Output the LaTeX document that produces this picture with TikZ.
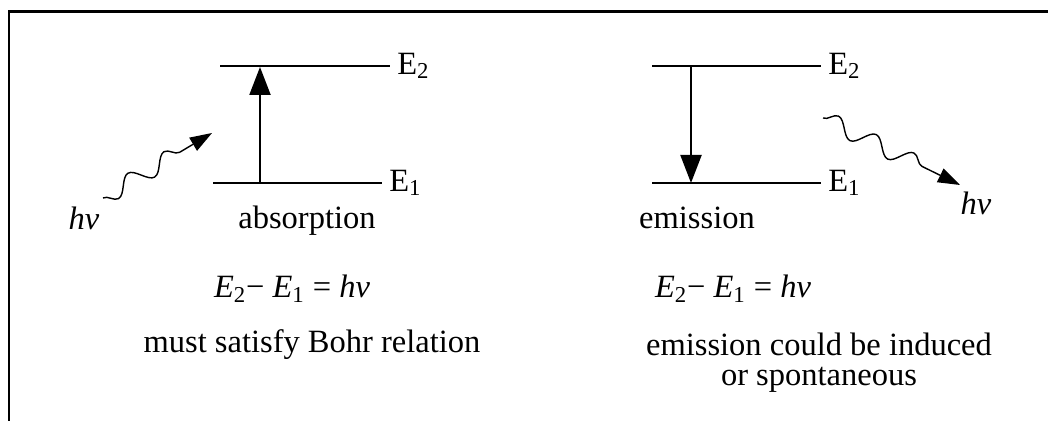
\documentclass[tikz,border=0pt]{standalone}
\usepackage{fontspec}
\setmainfont{Liberation Serif}
\usetikzlibrary{positioning,arrows.meta,decorations.pathmorphing}

\begin{document}
\begin{tikzpicture}[
  x=0.02cm, y=-0.02cm,
  font=\fontsize{18.5}{17}\selectfont,
  frame/.style={line width=1.7pt},
  level/.style={line width=1.5pt},
  trans/.style={line width=1.2pt, -{Triangle[length=0.56cm, width=0.42cm]}},
  photon/.style={line width=0.8pt, decorate,
    decoration={snake, amplitude=0.17cm, segment length=0.84cm, post length=0.7cm},
    -{Triangle[length=0.44cm, width=0.3cm]}},
  lvllabel/.style={inner sep=0pt},
  caption/.style={inner sep=0pt, anchor=base, align=center},
]
\useasboundingbox (0,0) rectangle (1048,421);

% Frame, only top and left edges show.
\draw[frame] (1048,12) -- (9,12) -- (9,421);

% Absorption: the two levels and the upward transition.
\coordinate (aTopL) at (220,66);
\coordinate (aTopR) at (390,66);
\coordinate (aBotL) at (213,183);
\coordinate (aBotR) at (382,183);
\draw[level] (aTopL) -- (aTopR);
\draw[level] (aBotL) -- (aBotR);
\node[lvllabel, right=4pt of aTopR] (aE2) {E\textsubscript{2}};
\node[lvllabel, right=4pt of aBotR] (aE1) {E\textsubscript{1}};
\coordinate (aUpS) at (260,183);
\coordinate (aUpE) at (260,67);
\draw[trans] (aUpS) -- (aUpE);

% Emission: the two levels and the downward transition.
\coordinate (eTopL) at (652,66);
\coordinate (eTopR) at (821,66);
\coordinate (eBotL) at (652,183);
\coordinate (eBotR) at (821,183);
\draw[level] (eTopL) -- (eTopR);
\draw[level] (eBotL) -- (eBotR);
\node[lvllabel, right=4pt of eTopR] (eE2) {E\textsubscript{2}};
\node[lvllabel, right=4pt of eBotR] (eE1) {E\textsubscript{1}};
\coordinate (eDnS) at (691,67);
\coordinate (eDnE) at (691,183);
\draw[trans] (eDnS) -- (eDnE);

% Incoming and outgoing photons.
\coordinate (inS) at (103,198);
\coordinate (inE) at (212,133);
\draw[photon, decoration={mirror}] (inS) -- (inE);
\node (hvIn) at (84,218) {\textit{hν}};
\coordinate (outS) at (823,118);
\coordinate (outE) at (960,185);
\draw[photon] (outS) -- (outE);
\node (hvOut) at (976,203) {\textit{hν}};

% Captions under each diagram.
\node[caption] (absorb) at (307,229) {absorption};
\node[caption] (emit)   at (697,229) {emission};
\node[caption] (eqA) at (292,298) {\textit{E}\textsubscript{2}− \textit{E}\textsubscript{1} = \textit{hν}};
\node[caption] (eqE) at (733,298) {\textit{E}\textsubscript{2}− \textit{E}\textsubscript{1} = \textit{hν}};
\node[caption] (bohr) at (312,353) {must satisfy Bohr relation};
\node[caption, anchor=north] (kind) at (819,333) {emission could be induced\\or spontaneous};

\end{tikzpicture}
\end{document}
